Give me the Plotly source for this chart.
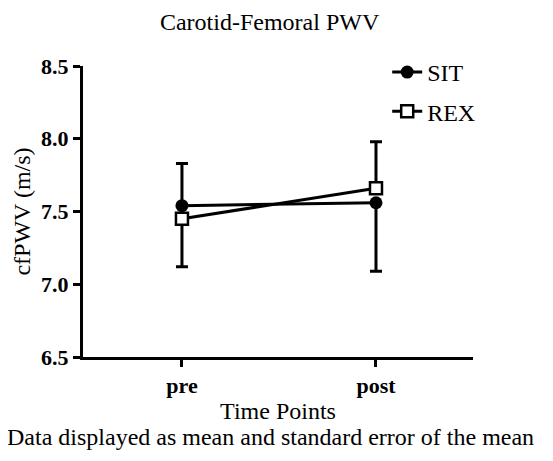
import plotly.graph_objects as go

# データ
time_points = ['pre', 'post']
sit_mean = [7.54, 7.56]
sit_sem_up = [0.29, 0.0]
sit_sem_down = [0.0, 0.47]
rex_mean = [7.45, 7.66]
rex_sem_up = [0.0, 0.32]
rex_sem_down = [0.33, 0.0]
y_ticks = [6.5, 7.0, 7.5, 8.0, 8.5]

FONT = 'Liberation Serif, Times New Roman, serif'

fig = go.Figure()

fig.add_trace(go.Scatter(
    x=time_points, y=sit_mean, name='SIT', mode='lines+markers',
    legendgroup='sit',
    line=dict(color='black', width=3),
    marker=dict(symbol='circle', size=13, color='black'),
    error_y=dict(type='data', symmetric=False, array=sit_sem_up, arrayminus=sit_sem_down,
                 color='black', thickness=3, width=6),
))

fig.add_trace(go.Scatter(
    x=time_points, y=rex_mean, name='REX', mode='lines+markers',
    legendgroup='rex',
    line=dict(color='black', width=3),
    marker=dict(symbol='square', size=12, color='white', line=dict(color='black', width=2.5)),
    error_y=dict(type='data', symmetric=False, array=rex_sem_up, arrayminus=rex_sem_down,
                 color='black', thickness=3, width=6),
))

fig.update_xaxes(type='category', range=[-0.51, 1.5],
                 showline=True, linewidth=3, linecolor='black',
                 ticks='outside', ticklen=7, tickwidth=3, tickcolor='black',
                 showgrid=False, zeroline=False,
                 tickfont=dict(family=FONT, size=22, color='black', weight='bold'),
                 title=dict(text='Time Points', font=dict(family=FONT, size=24, color='black'), standoff=5))

fig.update_yaxes(range=[6.5, 8.5], tickmode='array', tickvals=y_ticks,
                 ticktext=[f'{t:.1f}' for t in y_ticks],
                 showline=True, linewidth=3, linecolor='black',
                 ticks='outside', ticklen=7, tickwidth=3, tickcolor='black',
                 showgrid=False, zeroline=False,
                 tickfont=dict(family=FONT, size=22, color='black', weight='bold'),
                 title=dict(text='cfPWV (m/s)', font=dict(family=FONT, size=24, color='black'), standoff=4))

# ページ余白(8px)を考慮したサイズ
fig.update_layout(
    width=545, height=453,
    margin=dict(l=75, r=80, t=58, b=104),
    paper_bgcolor='white', plot_bgcolor='white',
    title=dict(text='Carotid-Femoral PWV', x=0.48, xanchor='center',
               y=1 - 14 / 453, yanchor='middle', yref='container',
               font=dict(family=FONT, size=24, color='black')),
    legend=dict(x=0.78, y=1.055, xanchor='left', yanchor='top',
                traceorder='grouped', tracegroupgap=5,
                font=dict(family=FONT, size=24, color='black'),
                bgcolor='rgba(0,0,0,0)'),
    annotations=[dict(text='Data displayed as mean and standard error of the mean',
                      xref='paper', yref='paper', x=0.48, y=-0.275,
                      xanchor='center', yanchor='middle', showarrow=False,
                      font=dict(family=FONT, size=24, color='black'))],
)

fig.write_html('out.html')
